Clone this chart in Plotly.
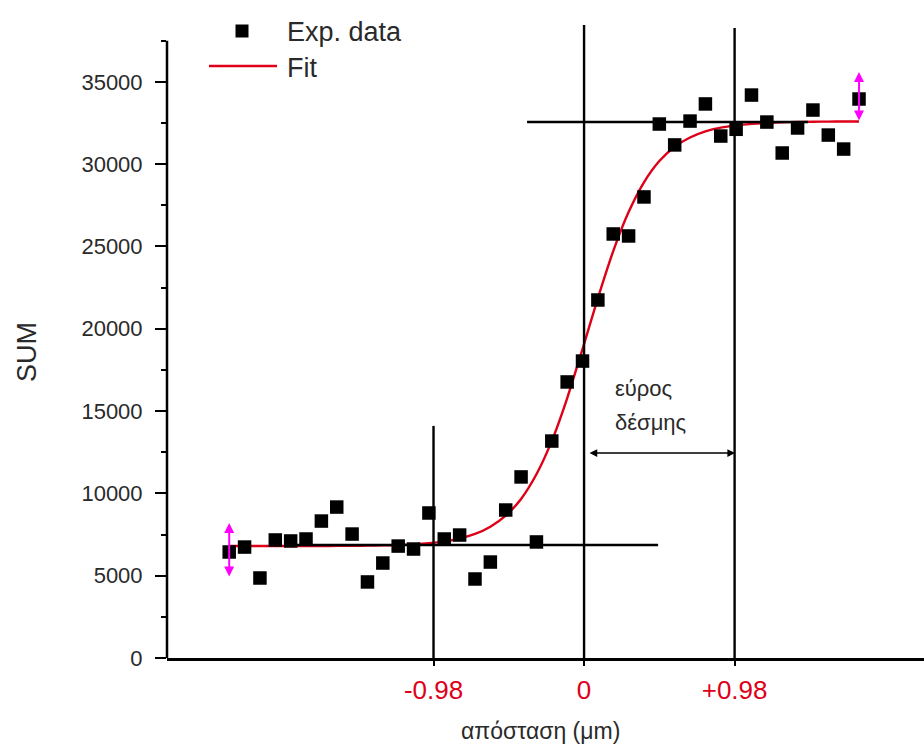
import plotly.graph_objects as go

# Measured knife-edge scan: position (μm) and summed signal
x_pos = [-2.31, -2.21, -2.11, -2.01, -1.91, -1.81, -1.71, -1.61, -1.51, -1.41,
         -1.31, -1.21, -1.11, -1.01, -0.91, -0.81, -0.71, -0.61, -0.51, -0.41,
         -0.31, -0.21, -0.11, -0.01, 0.09, 0.19, 0.29, 0.39, 0.49, 0.59,
         0.69, 0.79, 0.89, 0.99, 1.09, 1.19, 1.29, 1.39, 1.49, 1.59,
         1.69, 1.79]
sum_signal = [6440, 6740, 4860, 7170, 7110, 7230, 8320, 9170, 7530, 4620,
              5770, 6800, 6620, 8810, 7230, 7470, 4800, 5830, 8990, 11000,
              7050, 13180, 16770, 18040, 21750, 25760, 25640, 28010, 32440, 31170,
              32620, 33660, 31710, 32120, 34200, 32560, 30680, 32200, 33290, 31770,
              30920, 33960]

# Sigmoid fit evaluated at the scan positions
fit_signal = [6800, 6800, 6800, 6801, 6802, 6803, 6806, 6811, 6818, 6828,
              6841, 6868, 6909, 6976, 7086, 7259, 7535, 7977, 8652, 9664,
              11160, 13190, 15780, 18770, 21860, 24720, 27090, 28900, 30190, 31060,
              31620, 31990, 32220, 32360, 32450, 32510, 32540, 32566, 32579, 32588,
              32594, 32597]

# Reference levels and beam-width markers
low_level = 6865
high_level = 32560
edge_left, edge_center, edge_right = -0.98, 0.0, 0.98
width_arrow_y = 12450

x_ticks = [-0.98, 0, 0.98]
x_tick_text = ["-0.98", "0", "+0.98"]
y_ticks = [0, 5000, 10000, 15000, 20000, 25000, 30000, 35000]
y_tick_text = ["0", "5000", "10000", "15000", "20000", "25000", "30000", "35000"]
y_minor_ticks = [2500, 7500, 12500, 17500, 22500, 27500, 32500, 37500]

W, H = 924, 749
ML, MR, MT, MB = 167, 0, 20, 91
X_RANGE = [-2.715, 2.213]
Y_RANGE = [0, 38760]

FONT = "Liberation Sans, Arial, sans-serif"
RED = "rgb(222,0,24)"
TXT = "#2a2a2a"


def px(xp):
    return (xp - ML) / (W - ML - MR)


def py(yp):
    return (H - MB - yp) / (H - MT - MB)


fig = go.Figure()

fig.add_trace(go.Scatter(
    x=x_pos, y=fit_signal, mode="lines", name="Fit",
    line=dict(color=RED, width=2.4, shape="spline", smoothing=0.6),
    showlegend=False,
))
fig.add_trace(go.Scatter(
    x=x_pos, y=sum_signal, mode="markers", name="Exp. data",
    marker=dict(symbol="square", size=13.5, color="black", line=dict(width=0)),
    showlegend=False,
))

line_k = dict(color="black", width=2.4)
shapes = [
    # y axis line
    dict(type="line", xref="paper", yref="y", x0=0, x1=0, y0=0, y1=37500,
         line=dict(color="black", width=2.5), layer="above"),
    # plateau levels
    dict(type="line", xref="x", yref="y", x0=-1.87, x1=0.482, y0=low_level, y1=low_level,
         line=line_k, layer="above"),
    dict(type="line", xref="x", yref="y", x0=-0.371, x1=1.458, y0=high_level, y1=high_level,
         line=line_k, layer="above"),
    # edge markers
    dict(type="line", xref="x", yref="y", x0=edge_left, x1=edge_left, y0=0, y1=14100,
         line=line_k, layer="above"),
    dict(type="line", xref="x", yref="paper", x0=edge_center, x1=edge_center, y0=0, y1=py(25),
         line=line_k, layer="above"),
    dict(type="line", xref="x", yref="paper", x0=edge_right, x1=edge_right, y0=0, y1=py(28),
         line=line_k, layer="above"),
    # legend glyphs
    dict(type="rect", xref="paper", yref="paper", x0=px(235.5), x1=px(248.5),
         y0=py(37.5), y1=py(24.5), fillcolor="black", line=dict(width=0)),
    dict(type="line", xref="paper", yref="paper", x0=px(209), x1=px(277),
         y0=py(66), y1=py(66), line=dict(color=RED, width=2.4)),
]

annotations = [
    # beam width arrow
    dict(x=0.983, y=width_arrow_y, ax=0.026, ay=width_arrow_y, xref="x", yref="y",
         axref="x", ayref="y", text="", showarrow=True, arrowhead=2, arrowsize=1.1,
         arrowwidth=1.4, arrowcolor="black", arrowside="end+start"),
    # fluctuation arrows at the plateaus
    dict(x=x_pos[0], y=8200, ax=x_pos[0], ay=4860, xref="x", yref="y",
         axref="x", ayref="y", text="", showarrow=True, arrowhead=2, arrowsize=1,
         arrowwidth=2, arrowcolor="#ff00ff", arrowside="end+start"),
    dict(x=x_pos[-1], y=35600, ax=x_pos[-1], ay=high_level, xref="x", yref="y",
         axref="x", ayref="y", text="", showarrow=True, arrowhead=2, arrowsize=1,
         arrowwidth=2, arrowcolor="#ff00ff", arrowside="end+start"),
    dict(x=0.189, y=16400, xref="x", yref="y", text="εύρος", showarrow=False,
         xanchor="left", yanchor="middle", font=dict(family=FONT, size=22, color=TXT)),
    dict(x=0.189, y=14280, xref="x", yref="y", text="δέσμης", showarrow=False,
         xanchor="left", yanchor="middle", font=dict(family=FONT, size=22, color=TXT)),
    # legend labels
    dict(x=px(285), y=py(32), xref="paper", yref="paper", text="Exp. data", showarrow=False,
         xanchor="left", yanchor="middle", font=dict(family=FONT, size=27, color=TXT)),
    dict(x=px(285), y=py(68), xref="paper", yref="paper", text="Fit", showarrow=False,
         xanchor="left", yanchor="middle", font=dict(family=FONT, size=27, color=TXT)),
    # axis titles
    dict(x=px(540), y=py(731), xref="paper", yref="paper", text="απόσταση (μm)",
         showarrow=False, xanchor="center", yanchor="middle",
         font=dict(family=FONT, size=23, color=TXT)),
    dict(x=px(27), y=py(352), xref="paper", yref="paper", text="SUM", textangle=-90,
         showarrow=False, xanchor="center", yanchor="middle",
         font=dict(family=FONT, size=27, color=TXT)),
]

fig.update_layout(
    width=W, height=H,
    margin=dict(l=ML, r=MR, t=MT, b=MB, pad=0),
    paper_bgcolor="white", plot_bgcolor="white",
    shapes=shapes, annotations=annotations,
    showlegend=False,
    xaxis=dict(
        range=X_RANGE, tickmode="array", tickvals=x_ticks, ticktext=x_tick_text,
        tickfont=dict(family=FONT, size=26, color=RED),
        ticks="outside", ticklen=5, tickwidth=2, tickcolor="black",
        ticklabelstandoff=2,
        showline=True, linecolor="black", linewidth=2.5,
        showgrid=False, zeroline=False,
    ),
    yaxis=dict(
        range=Y_RANGE, tickmode="array", tickvals=y_ticks, ticktext=y_tick_text,
        tickfont=dict(family=FONT, size=22, color=TXT),
        ticks="outside", ticklen=11, tickwidth=2, tickcolor="black",
        ticklabelstandoff=8,
        minor=dict(tickmode="array", tickvals=y_minor_ticks,
                   ticks="outside", ticklen=5, tickwidth=2, tickcolor="black", showgrid=False),
        showline=False, showgrid=False, zeroline=False,
    ),
)

fig.write_html("out.html")
